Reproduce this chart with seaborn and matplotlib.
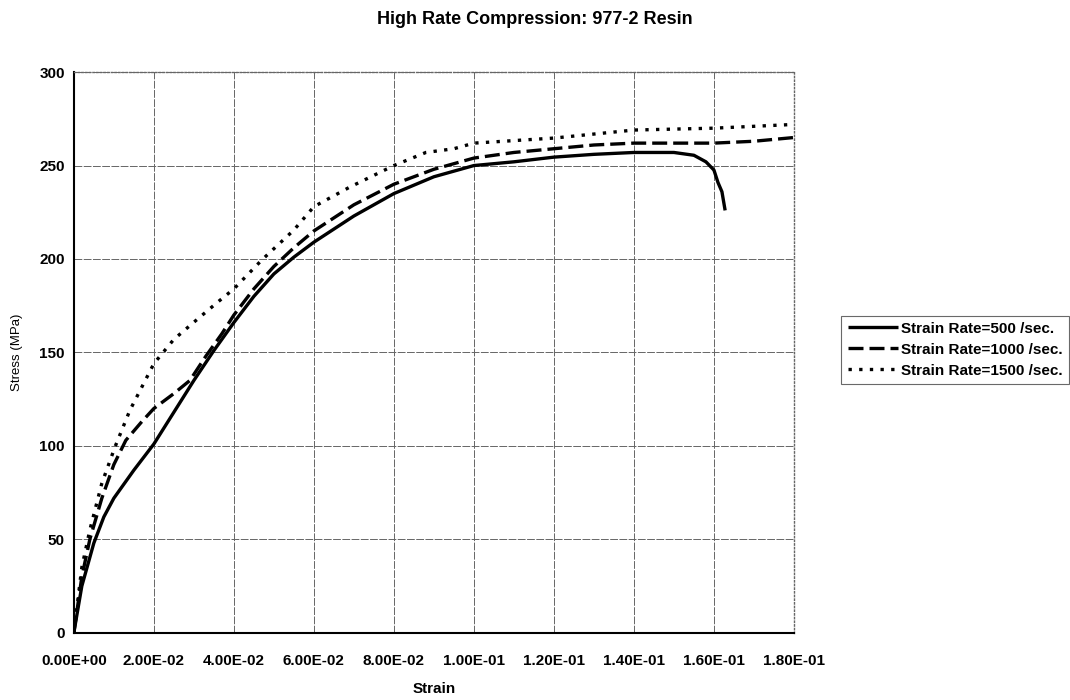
import numpy as np
import pandas as pd
import matplotlib
matplotlib.use("Agg")
import matplotlib.pyplot as plt
import seaborn as sns
from matplotlib.ticker import FuncFormatter

# values
strain_500 = [0, 0.002, 0.005, 0.0075, 0.01, 0.015, 0.02, 0.025, 0.03, 0.035, 0.04, 0.045,
              0.05, 0.055, 0.06, 0.07, 0.08, 0.09, 0.1, 0.11, 0.12, 0.13, 0.14, 0.15,
              0.155, 0.158, 0.16, 0.161, 0.162, 0.1628]
stress_500 = [0, 25, 48, 62, 72, 87, 101, 118, 135, 151, 166, 180,
              192, 201, 209, 223, 235, 244, 250, 252, 254.5, 256, 257, 257,
              255.5, 252, 247.6, 241, 236, 226]

strain_1000 = [0, 0.002, 0.004, 0.007, 0.01, 0.013, 0.017, 0.02, 0.025, 0.029, 0.033, 0.037,
               0.04, 0.045, 0.05, 0.055, 0.06, 0.07, 0.08, 0.09, 0.1, 0.11, 0.12, 0.13,
               0.14, 0.15, 0.16, 0.17, 0.18]
stress_1000 = [0, 30, 50, 72, 90, 103, 113, 120, 128, 135, 148, 160,
               170, 184, 196, 206, 215, 229, 240, 248, 254, 257, 259, 261,
               262, 262, 262, 263, 265]

strain_1500 = [0, 0.002, 0.004, 0.007, 0.0103, 0.014, 0.02, 0.025, 0.031, 0.036, 0.04, 0.047,
               0.055, 0.06, 0.069, 0.08, 0.088, 0.095, 0.1, 0.12, 0.14, 0.16, 0.18]
stress_1500 = [0, 35, 55, 80, 99.5, 119, 144, 157, 168, 177, 184, 199.5,
               215.5, 228, 238.5, 250, 257, 259, 262, 264.7, 269, 270, 272]

labels = ["Strain Rate=500 /sec.", "Strain Rate=1000 /sec.", "Strain Rate=1500 /sec."]

df = pd.concat([
    pd.DataFrame({"strain": strain_500, "stress": stress_500, "rate": labels[0]}),
    pd.DataFrame({"strain": strain_1000, "stress": stress_1000, "rate": labels[1]}),
    pd.DataFrame({"strain": strain_1500, "stress": stress_1500, "rate": labels[2]}),
])

sns.set_style("white")
plt.rcParams['font.family'] = ['Liberation Sans', 'DejaVu Sans']
plt.rcParams.update({"text.color": "black", "axes.labelcolor": "black",
                     "xtick.color": "black", "ytick.color": "black"})

fig = plt.figure(figsize=(10.7, 7), dpi=100)
ax = fig.add_axes([0.069, 0.096, 0.673, 0.801])

sns.lineplot(data=df, x="strain", y="stress", hue="rate", style="rate",
             palette=["black"] * 3, dashes=[(1, 0), (4.5, 1.8), (1, 2.2)],
             linewidth=2.4, sort=False, estimator=None, ax=ax, legend=True)

ax.set_xlim(0, 0.18)
ax.set_ylim(0, 300)
ax.set_xticks(np.arange(0, 0.181, 0.02))
ax.set_yticks(np.arange(0, 301, 50))
ax.xaxis.set_major_formatter(FuncFormatter(lambda v, p: f"{v:.2E}"))
ax.grid(True, color="#666666", linewidth=0.7, linestyle=(0, (8, 1.5)))
ax.tick_params(axis="both", length=3, direction="out", labelsize=11)
ax.tick_params(axis="x", pad=12)
for t in ax.get_xticklabels() + ax.get_yticklabels():
    t.set_fontweight("bold")

for side in ["left", "bottom"]:
    ax.spines[side].set_color("black")
    ax.spines[side].set_linewidth(1.5)
for side in ["top", "right"]:
    ax.spines[side].set_color("#666666")
    ax.spines[side].set_linestyle(":")
    ax.spines[side].set_linewidth(1.0)

ax.set_xlabel("Strain", fontweight="bold", fontsize=11, labelpad=10)
ax.set_ylabel("Stress (MPa)", fontsize=9.5, labelpad=12)
fig.suptitle("High Rate Compression: 977-2 Resin", fontweight="bold", fontsize=13,
             y=0.985, color="black")

handles, lbls = ax.get_legend_handles_labels()
leg = ax.legend(handles, lbls, loc="center left", bbox_to_anchor=(1.066, 0.505),
                borderaxespad=0, frameon=True, fancybox=False, edgecolor="#444444",
                fontsize=11, handlelength=3.3, handletextpad=0.2, borderpad=0.4,
                labelspacing=0.45)
leg.get_frame().set_linewidth(0.8)
for t in leg.get_texts():
    t.set_fontweight("bold")
    t.set_color("black")

fig.savefig("out.png", dpi=100)
